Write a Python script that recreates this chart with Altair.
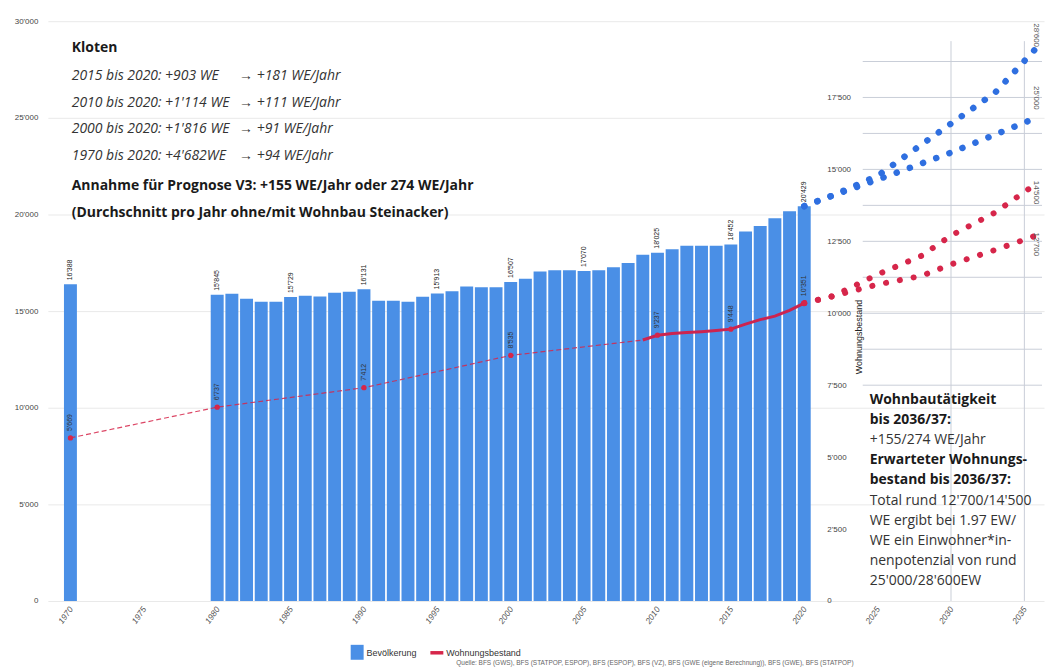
import altair as alt
import pandas as pd

# ---------------- data ----------------
pop_years = [1970] + list(range(1980, 2021))
pop_values = [16388, 15845, 15900, 15640, 15485, 15485, 15729, 15800, 15750, 15950, 16000,
              16131, 15540, 15540, 15480, 15740, 15913, 16030, 16270, 16240, 16240,
              16507, 16670, 17050, 17110, 17120, 17070, 17120, 17270, 17490, 17920,
              18025, 18200, 18380, 18380, 18380, 18452, 19120, 19400, 19800, 20170, 20429]
pop_label_years = [1970, 1980, 1985, 1990, 1995, 2000, 2005, 2010, 2015, 2020]

hist_dash_years = [1970, 1980, 1990, 2000, 2009]
hist_dash_values = [5669, 6737, 7412, 8535, 9070]
hist_solid_years = [2009, 2010, 2011, 2012, 2013, 2014, 2015, 2016, 2017, 2018, 2019, 2020]
hist_solid_values = [9070, 9237, 9300, 9330, 9360, 9400, 9448, 9620, 9780, 9900, 10100, 10351]
house_label_years = [1970, 1980, 1990, 2000, 2010, 2015, 2020]

pop_fc_high_years = [2020, 2022, 2025, 2030, 2033, 2035.8]
pop_fc_high_values = [20429, 21000, 22000, 24700, 26300, 28600]
pop_fc_low_years = [2020, 2022, 2025, 2030, 2035.8]
pop_fc_low_values = [20429, 21000, 21800, 23200, 25000]
house_fc_high_years = [2020, 2022, 2025, 2028, 2030, 2033, 2035.8]
house_fc_high_values = [10351, 10600, 11350, 12000, 12700, 13500, 14500]
house_fc_low_years = [2020, 2022, 2025, 2028, 2030, 2033, 2035.8]
house_fc_low_values = [10351, 10600, 11000, 11300, 11700, 12200, 12700]

house_grid_values = [7500, 8750, 10000, 11250, 12500, 13750, 15000, 16250, 17500, 18750]
right_vgrid_years = [2030, 2035]

BLUE = "#4a8fe6"
RED = "#d6264a"
FONT = "Open Sans"
W = 1000
H = 582


def fmt(v):
    return f"{int(v):,}".replace(",", "'")


df_pop = pd.DataFrame({"year": pop_years, "pop": pop_values})
df_pop_lab = df_pop[df_pop["year"].isin(pop_label_years)].copy()
df_pop_lab["lab"] = df_pop_lab["pop"].map(fmt)

df_dash = pd.DataFrame({"year": hist_dash_years, "h": hist_dash_values})
df_solid = pd.DataFrame({"year": hist_solid_years, "h": hist_solid_values})
df_hall = pd.concat([df_dash, df_solid]).drop_duplicates("year")
df_hlab = df_hall[df_hall["year"].isin(house_label_years)].copy()
df_hlab["lab"] = df_hlab["h"].map(fmt)

df_pfc = pd.concat([
    pd.DataFrame({"year": pop_fc_high_years, "v": pop_fc_high_values, "s": "hoch"}),
    pd.DataFrame({"year": pop_fc_low_years, "v": pop_fc_low_values, "s": "tief"}),
])
df_hfc = pd.concat([
    pd.DataFrame({"year": house_fc_high_years, "v": house_fc_high_values, "s": "hoch"}),
    pd.DataFrame({"year": house_fc_low_years, "v": house_fc_low_values, "s": "tief"}),
])
df_hgrid = pd.DataFrame({"v": house_grid_values})
df_vgrid = pd.DataFrame({"year": right_vgrid_years})
one = pd.DataFrame({"a": [0]})

# ---------------- scales & axes ----------------
xsc = alt.Scale(domain=[1968.8, 2036.0], nice=False, zero=False)
popsc = alt.Scale(domain=[0, 30000], nice=False)
hsc = alt.Scale(domain=[0, 20150], nice=False)
sep_expr = "replace(format(datum.value, ','), ',', \"'\")"

xaxis = alt.Axis(values=list(range(1970, 2036, 5)), format="d", labelAngle=-55,
                 labelFontSize=8.5, labelColor="#555", labelFont="Liberation Sans",
                 labelFontStyle="italic", ticks=False, domain=False, grid=False,
                 title=None, labelPadding=6)
popaxis = alt.Axis(orient="left", values=list(range(0, 30001, 5000)), labelExpr=sep_expr,
                   labelFontSize=8, labelColor="#444", labelFont="Liberation Sans",
                   ticks=False, domain=False, grid=True, gridColor="#e9e9e9",
                   title=None, minExtent=40, maxExtent=40, labelPadding=10)
haxis = alt.Axis(orient="right", offset=-(W - 780), values=list(range(0, 17501, 2500)),
                 labelExpr=sep_expr, labelFontSize=8, labelColor="#444",
                 labelFont="Liberation Sans", ticks=False, domain=False, grid=False,
                 title=None, labelPadding=2)

X = lambda: alt.X("year:Q", scale=xsc, axis=xaxis)

# ---------------- layers ----------------
hgrid = alt.Chart(df_hgrid).mark_rule(color="#c9ced8", strokeWidth=1).encode(
    x=alt.value(818), x2=alt.value(W - 2),
    y=alt.Y("v:Q", scale=hsc, axis=None))
vgrid = alt.Chart(df_vgrid).mark_rule(color="#c9ced8", strokeWidth=1).encode(
    x=X(), y=alt.value(20), y2=alt.value(582))

bars = alt.Chart(df_pop).mark_bar(size=13, color=BLUE).encode(
    x=X(), y=alt.Y("pop:Q", scale=popsc, axis=popaxis))
bar_lab = alt.Chart(df_pop_lab).mark_text(angle=270, align="left", baseline="middle", dx=4,
                                          fontSize=7, color="#222", font="Liberation Sans").encode(
    x=X(), y=alt.Y("pop:Q", scale=popsc, axis=None), text="lab:N")

h_dash = alt.Chart(df_dash).mark_line(color=RED, strokeWidth=1.2, strokeDash=[5, 3], opacity=0.85).encode(
    x=X(), y=alt.Y("h:Q", scale=hsc, axis=haxis))
h_solid = alt.Chart(df_solid).mark_line(color="#cc2450", strokeWidth=3).encode(
    x=X(), y=alt.Y("h:Q", scale=hsc, axis=None))
h_pts = alt.Chart(df_hlab).mark_circle(size=28, color=RED, opacity=1).encode(
    x=X(), y=alt.Y("h:Q", scale=hsc, axis=None))
h_lab = alt.Chart(df_hlab).mark_text(angle=270, align="left", baseline="middle", dx=7,
                                     fontSize=7, color="#333", font="Liberation Sans").encode(
    x=X(), y=alt.Y("h:Q", scale=hsc, axis=None), text="lab:N")

p_fc = alt.Chart(df_pfc).mark_line(color="#2f6fe0", strokeWidth=6.5, strokeCap="round",
                                   strokeDash=[0.1, 14]).encode(
    x=X(), y=alt.Y("v:Q", scale=popsc, axis=None), detail="s:N")
h_fc = alt.Chart(df_hfc).mark_line(color=RED, strokeWidth=6, strokeCap="round",
                                   strokeDash=[0.1, 14]).encode(
    x=X(), y=alt.Y("v:Q", scale=hsc, axis=None), detail="s:N")


def txt(lines, x, y, size=14, weight="normal", style="normal", color="#222", lh=20,
        angle=0, align="left", baseline="top", font=FONT):
    kw = dict(text=lines, fontSize=size, fontWeight=weight, fontStyle=style, color=color,
              lineHeight=lh, align=align, baseline=baseline, font=font)
    if angle:
        kw["angle"] = angle
    return alt.Chart(one).mark_text(**kw).encode(x=alt.value(x), y=alt.value(y))


t_title = txt(["Kloten"], 24, 20, weight="bold", color="#1a1a1a")
t_ital = txt(["2015 bis 2020: +903 WE", "2010 bis 2020: +1'114 WE",
              "2000 bis 2020: +1'816 WE", "1970 bis 2020: +4'682WE"],
             24, 48, style="italic", color="#333", lh=26.8)
t_arrow = txt(["\u2192 +181 WE/Jahr", "\u2192 +111 WE/Jahr",
               "\u2192 +91 WE/Jahr", "\u2192 +94 WE/Jahr"],
              192, 48, style="italic", color="#333", lh=26.8)
t_bold = txt(["Annahme f\u00fcr Prognose V3: +155 WE/Jahr oder 274 WE/Jahr",
              "(Durchschnitt pro Jahr ohne/mit Wohnbau Steinacker)"],
             24, 158, weight="bold", color="#1a1a1a", lh=28)

r1 = txt(["Wohnbaut\u00e4tigkeit", "bis 2036/37:"], 825, 373, weight="bold", color="#1a1a1a", lh=20)
r2 = txt(["+155/274 WE/Jahr"], 825, 413, color="#333")
r3 = txt(["Erwarteter Wohnungs-", "bestand bis 2036/37:"], 825, 433, weight="bold", color="#1a1a1a", lh=20.5)
r4 = txt(["Total rund 12'700/14'500", "WE ergibt bei 1.97 EW/", "WE ein Einwohner*in-",
          "nenpotenzial von rund", "25'000/28'600EW"], 825, 475, color="#333", lh=20)

t_haxis_title = txt(["Wohnungsbestand"], 814, 317, size=9, angle=270, align="center",
                    baseline="middle", color="#222", font="Liberation Sans")
edge_kw = dict(size=8, angle=90, align="center", baseline="middle", color="#555",
               font="Liberation Sans")
edge_labs = [
    txt(["28'600"], W - 8, 14, **edge_kw),
    txt(["25'000"], W - 8, 77, **edge_kw),
    txt(["14'500"], W - 8, 172, **edge_kw),
    txt(["12'700"], W - 8, 224, **edge_kw),
]

leg_rect = alt.Chart(one).mark_rect(color=BLUE).encode(
    x=alt.value(304), x2=alt.value(317), y=alt.value(626), y2=alt.value(641))
leg_rule = alt.Chart(one).mark_rule(color=RED, strokeWidth=3.5).encode(
    x=alt.value(384), x2=alt.value(397), y=alt.value(634))
leg_t1 = txt(["Bev\u00f6lkerung"], 320, 634, size=9, baseline="middle", color="#333",
             font="Liberation Sans")
leg_t2 = txt(["Wohnungsbestand"], 400, 634, size=9, baseline="middle", color="#333",
             font="Liberation Sans")
source = txt(["Quelle: BFS (GWS), BFS (STATPOP, ESPOP), BFS (ESPOP), BFS (VZ), "
              "BFS (GWE (eigene Berechnung)), BFS (GWE), BFS (STATPOP)"],
             410, 644, size=6.5, baseline="middle", color="#666", font="Liberation Sans")

chart = alt.layer(
    hgrid, vgrid, bars, bar_lab, h_dash, h_solid, h_pts, h_lab, p_fc, h_fc,
    t_title, t_ital, t_arrow, t_bold, r1, r2, r3, r4, t_haxis_title, *edge_labs,
    leg_rect, leg_rule, leg_t1, leg_t2, source,
).resolve_scale(y="independent").properties(
    width=W, height=H,
    padding={"left": 0, "top": 8, "right": 0, "bottom": 0},
    background="white",
).configure_view(stroke=None)

chart.save("out.html", embed_options={"renderer": "svg", "actions": False})
